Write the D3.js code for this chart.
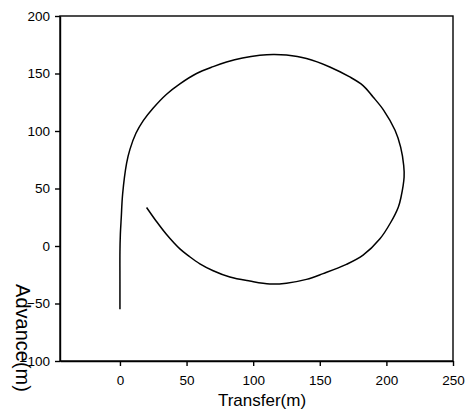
<!DOCTYPE html>
<html>
<head>
<meta charset="utf-8">
<script src="https://cdn.jsdelivr.net/npm/d3@7"></script>
<style>
  body { margin: 0; background: #fff; }
  svg { display: block; font-family: "Liberation Sans", Arial, sans-serif; }
</style>
</head>
<body>
<svg id="drawing_region"></svg>
<script>
// turning circle track
const transferVals = [0, 0, 0, 0.3, 1, 2, 5, 7.5, 12, 17.5, 25, 35, 45, 57.5, 70, 80, 92, 105, 115, 125,
    140, 157.5, 172.5, 182.5, 190, 198, 206.5, 210.7, 213, 213.3, 211, 209, 203, 195, 182.5, 170, 152.5, 140,
    125, 112.5, 97.5, 82.5, 70, 60, 52, 45, 35, 27, 20];
const advanceVals = [-55, -30, -5, 10, 25, 45, 72, 84, 98, 109, 120, 132, 141, 150, 156, 160, 163.5, 165.8, 166.5, 166,
    163, 155.7, 147, 139.5, 129.6, 118, 100.6, 86, 70, 60, 42.6, 34, 20, 6, -8, -16, -24, -29,
    -32.3, -33, -30.5, -27, -21.5, -15.5, -9, -2.5, 10, 22, 33.5];
const xTicks = [0, 50, 100, 150, 200, 250];
const yTicks = [-100, -50, 0, 50, 100, 150, 200];

const data = transferVals.map((x, i) => ({x: x, y: advanceVals[i]}));

const width = 467, height = 414;
const margin = {top: 16, right: 14, bottom: 53, left: 60};
const inner_width = width - margin.left - margin.right;
const inner_height = height - margin.top - margin.bottom;

const svg = d3.select('#drawing_region')
    .attr('width', width)
    .attr('height', height);

const chart = svg.append('g')
    .attr('transform', `translate(${margin.left}, ${margin.top})`);

const xscale = d3.scaleLinear().domain([-45, 250]).range([0, inner_width]);
const yscale = d3.scaleLinear().domain([-100, 200]).range([inner_height, 0]);

const xaxis = d3.axisBottom(xscale).tickValues(xTicks).tickSize(5).tickSizeOuter(0).tickPadding(9);
const yaxis = d3.axisLeft(yscale).tickValues(yTicks).tickSize(5).tickSizeOuter(0).tickPadding(5);

const xg = chart.append('g')
    .attr('transform', `translate(0, ${inner_height})`)
    .call(xaxis);
const yg = chart.append('g').call(yaxis);

[xg, yg].forEach(g => {
    g.selectAll('path, line').attr('stroke', '#000').attr('stroke-width', 1.4);
    g.selectAll('text').attr('fill', '#000').attr('font-size', '13.5px')
     .attr('font-family', '"Liberation Sans", Arial, sans-serif');
});

// frame
chart.append('rect')
    .attr('x', 0).attr('y', 0)
    .attr('width', inner_width).attr('height', inner_height)
    .attr('fill', 'none')
    .attr('stroke', '#000')
    .attr('stroke-width', 1.4);

const line = d3.line()
    .x(d => xscale(d.x))
    .y(d => yscale(d.y))
    .curve(d3.curveCatmullRom.alpha(0.5));

chart.append('path')
    .datum(data)
    .attr('fill', 'none')
    .attr('stroke', '#000')
    .attr('stroke-width', 1.5)
    .attr('d', line);

// axis titles
svg.append('text')
    .attr('x', 262)
    .attr('y', 406)
    .attr('text-anchor', 'middle')
    .attr('font-size', '17px')
    .attr('fill', '#000')
    .text('Transfer(m)');

svg.append('text')
    .attr('transform', 'translate(16, 338) rotate(90)')
    .attr('text-anchor', 'middle')
    .attr('font-size', '20px')
    .attr('fill', '#000')
    .text('Advance(m)');
</script>
</body>
</html>
